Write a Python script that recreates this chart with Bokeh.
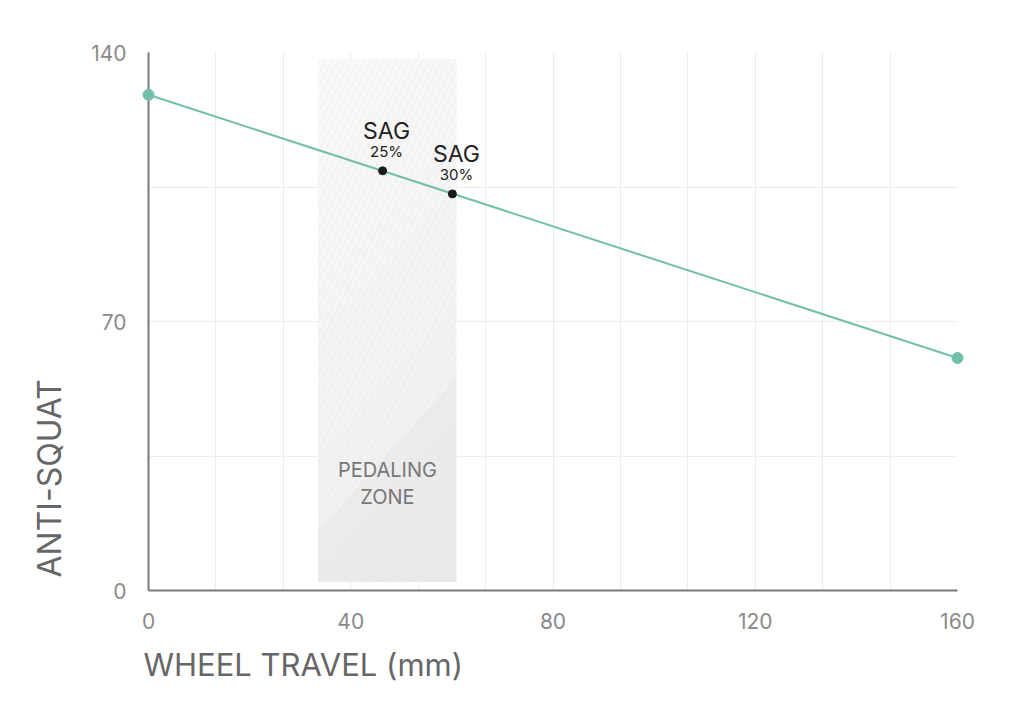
from bokeh.plotting import figure
from bokeh.models import FixedTicker, Range1d, ColumnDataSource, Title
from bokeh.core.properties import value
from bokeh.embed import file_html
from bokeh.resources import INLINE

# ---- data ----
travel = [0, 160]
anti_squat = [129.0, 60.5]
sag_travel = [46.3, 60.1]
sag_value = [109.2, 103.2]
sag_title = ["SAG", "SAG"]
sag_pct = ["25%", "30%"]
zone_x = [33.5, 61.0]
zone_y = [2.2, 138.3]
zone_label = "PEDALING\nZONE"
x_ticks = [0, 40, 80, 120, 160]
y_ticks = [0, 70, 140]

FONT = "Inter"
TEAL = "#72bfab"

p = figure(width=1008, height=708, x_range=Range1d(0, 160), y_range=Range1d(0, 140),
           output_backend="svg", toolbar_location=None,
           min_border_left=148, min_border_right=51, min_border_top=52, min_border_bottom=118)
p.outline_line_color = None
p.background_fill_color = "white"
p.border_fill_color = "white"

# grids
p.xgrid.ticker = FixedTicker(ticks=[i * 160 / 12 for i in range(13)])
p.ygrid.ticker = FixedTicker(ticks=[i * 35 for i in range(5)])
p.xgrid.grid_line_color = "#ececec"
p.ygrid.grid_line_color = "#ececec"

for ax, ticks in ((p.xaxis, x_ticks), (p.yaxis, y_ticks)):
    ax.ticker = FixedTicker(ticks=ticks)
    ax.major_tick_line_color = None
    ax.minor_tick_line_color = None
    ax.axis_line_color = "#7a7a7a"
    ax.axis_line_width = 2
    ax.major_label_text_font = FONT
    ax.major_label_text_font_size = "21px"
    ax.major_label_text_color = "#8a8a8a"
p.xaxis.major_label_standoff = 16
p.yaxis.major_label_standoff = 16

# pedaling zone: base + diagonal gradient bands + hatch
x0, x1 = zone_x
y0, y1 = zone_y
p.quad(left=[x0], right=[x1], bottom=[y0], top=[y1], fill_color="#f9f9f9", line_color=None)

slope = 1.45


def clip_rect(c):
    rect = [(x0, y0), (x1, y0), (x1, y1), (x0, y1)]
    f = lambda pt: c + slope * (pt[0] - x0) - pt[1]
    out = []
    n = len(rect)
    for i in range(n):
        a, b = rect[i], rect[(i + 1) % n]
        fa, fb = f(a), f(b)
        if fa >= 0:
            out.append(a)
        if (fa >= 0) != (fb >= 0):
            t = fa / (fa - fb)
            out.append((a[0] + t * (b[0] - a[0]), a[1] + t * (b[1] - a[1])))
    return out


nb = 12
for k in range(1, nb):
    c = y1 - (y1 - y0 + slope * (x1 - x0)) * k / nb
    poly = clip_rect(c)
    if len(poly) >= 3:
        p.patch([q[0] for q in poly], [q[1] for q in poly], fill_color="#000000",
                fill_alpha=0.004, line_color=None)
poly = clip_rect(15.6)
p.patch([q[0] for q in poly], [q[1] for q in poly], fill_color="#000000",
        fill_alpha=0.018, line_color=None)

p.quad(left=[x0], right=[x1], bottom=[y0], top=[y1], fill_color=None, line_color=None,
       hatch_pattern="/", hatch_color="#e3e3e3", hatch_weight=0.6, hatch_scale=13, hatch_alpha=0.8)

p.text(x=[(x0 + x1) / 2], y=[27.8], text=[zone_label], text_align="center", text_baseline="middle",
       text_font=value(FONT), text_font_size="20px", text_color="#777777", text_line_height=1.1)

# line + endpoints
p.line(travel, anti_squat, line_color=TEAL, line_width=2)
p.scatter(travel, anti_squat, size=11, fill_color=TEAL, line_color=TEAL, level="overlay")

# sag points
src = ColumnDataSource(dict(x=sag_travel, y=sag_value, t=sag_title, pc=sag_pct))
p.scatter("x", "y", source=src, size=8, fill_color="#1a1a1a", line_color="#1a1a1a")
p.text("x", "y", text="t", source=src, x_offset=4, y_offset=-40, text_align="center",
       text_baseline="middle", text_font=value(FONT), text_font_size="23px", text_color="#222222")
p.text("x", "y", text="pc", source=src, x_offset=4, y_offset=-19, text_align="center",
       text_baseline="middle", text_font=value(FONT), text_font_size="15px", text_color="#222222")

# axis titles
p.add_layout(Title(text="WHEEL TRAVEL (mm)", align="left", offset=-5, standoff=24,
                   text_font=FONT, text_font_size="31px", text_font_style="normal",
                   text_color="#666666"), "below")
p.add_layout(Title(text="ANTI-SQUAT", align="left", offset=13, standoff=40,
                   text_font=FONT, text_font_size="32px", text_font_style="normal",
                   text_color="#666666"), "left")

open("out.html", "w").write(file_html(p, INLINE))
